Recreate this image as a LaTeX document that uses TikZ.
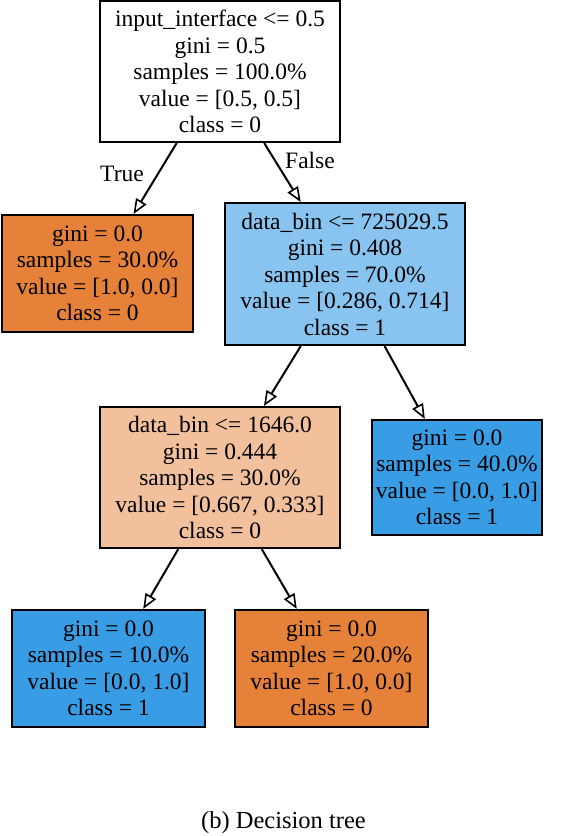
\documentclass[tikz,border=0pt]{standalone}
\usepackage{fontspec}
\setmainfont{Liberation Serif}
\usetikzlibrary{arrows.meta}
\definecolor{orangeA}{HTML}{E58139}
\definecolor{blueA}{HTML}{399DE5}
\definecolor{lblue}{HTML}{89C4F0}
\definecolor{lorange}{HTML}{F2C09C}
\begin{document}
\begin{tikzpicture}[x=1pt,y=-1pt,
  tbox/.style={draw=black, line width=2pt, inner sep=0pt, align=center,
    font=\fontsize{23.5}{26.5}\selectfont},
  edge/.style={line width=2pt, -{Triangle[open,length=15pt,width=12pt,line width=1.6pt]}},
  lbl/.style={font=\fontsize{23.5}{26.5}\selectfont, inner sep=0pt}]
\useasboundingbox (0,0) rectangle (566,836);
\node[tbox, minimum width=240pt, minimum height=141pt] (root) at (220,71.5)
  {input\_interface <= 0.5\\gini = 0.5\\samples = 100.0\%\\value = [0.5, 0.5]\\class = 0};
\node[tbox, fill=orangeA, minimum width=191pt, minimum height=117pt] (l1) at (97.5,273.5)
  {gini = 0.0\\samples = 30.0\%\\value = [1.0, 0.0]\\class = 0};
\node[tbox, fill=lblue, minimum width=240pt, minimum height=142pt] (d1) at (345,274)
  {data\_bin <= 725029.5\\gini = 0.408\\samples = 70.0\%\\value = [0.286, 0.714]\\class = 1};
\node[tbox, fill=lorange, minimum width=240pt, minimum height=141pt] (d2) at (220,477.5)
  {data\_bin <= 1646.0\\gini = 0.444\\samples = 30.0\%\\value = [0.667, 0.333]\\class = 0};
\node[tbox, fill=blueA, minimum width=170pt, minimum height=115pt] (l40) at (457,477.5)
  {gini = 0.0\\samples = 40.0\%\\value = [0.0, 1.0]\\class = 1};
\node[tbox, fill=blueA, minimum width=193pt, minimum height=117pt] (l10) at (108.5,668.5)
  {gini = 0.0\\samples = 10.0\%\\value = [0.0, 1.0]\\class = 1};
\node[tbox, fill=orangeA, minimum width=193pt, minimum height=117pt] (l20) at (331.5,668.5)
  {gini = 0.0\\samples = 20.0\%\\value = [1.0, 0.0]\\class = 0};
\draw[edge] (root) -- (l1);
\draw[edge] (root) -- (d1);
\draw[edge] (d1) -- (d2);
\draw[edge] (d1) -- (l40);
\draw[edge] (d2) -- (l10);
\draw[edge] (d2) -- (l20);
\node[lbl] (tlbl) at (122,174) {True};
\node[lbl] (flbl) at (310,160) {False};
\node[lbl, font=\fontsize{24.5}{27}\selectfont] (cap) at (283.5,823) {(b) Decision tree};
\end{tikzpicture}
\end{document}
